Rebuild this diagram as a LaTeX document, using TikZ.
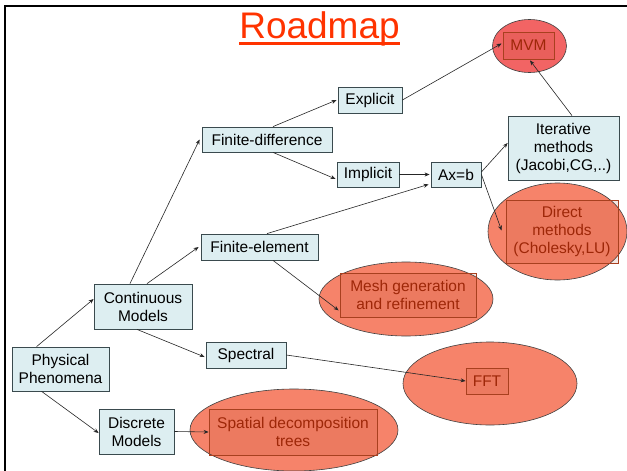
\documentclass[tikz,border=0pt]{standalone}
\usepackage{fontspec}
\setmainfont{Liberation Sans}
\usetikzlibrary{shapes.geometric,arrows.meta}
\definecolor{boxfill}{HTML}{DDEEF1}
\definecolor{boxline}{HTML}{3A4A4E}
\definecolor{ellfill}{HTML}{F6836A}
\definecolor{mvmfill}{HTML}{F26464}
\definecolor{innerline}{HTML}{A8401F}
\definecolor{innertext}{HTML}{9E2708}
\definecolor{titlecol}{HTML}{FF3300}
\tikzset{
  bluebox/.style={draw=boxline, line width=0.8pt, fill=boxfill, rectangle, inner sep=0pt,
    align=center, font=\fontsize{15.5}{18}\selectfont},
  redell/.style={draw=black!75, line width=0.6pt, fill=ellfill, ellipse, inner sep=0pt},
  innerbox/.style={draw=innerline, line width=0.8pt, fill=innerline, fill opacity=0.12, text opacity=1,
    rectangle, inner sep=0pt, align=center, text=innertext, font=\fontsize{15.5}{18}\selectfont},
  conn/.style={draw=black!85, line width=0.6pt, -{Stealth[length=5pt,width=4pt]}},
}
\begin{document}
\begin{tikzpicture}[x=1pt,y=-1pt]
\useasboundingbox (0,0) rectangle (627,471);
\fill[white] (0,0) rectangle (627,471);
% frame
\draw[line width=2.5pt, black] (5,471) -- (5,6) -- (627,6);
% title
\node[anchor=base, inner sep=0pt, text=titlecol, font=\fontsize{37}{40}\selectfont] (title) at (319.5,38) {Roadmap};
\draw[line width=2.5pt, titlecol] ([yshift=-5.5pt]title.base west) -- ([yshift=-5.5pt]title.base east);
% ellipses
\node[redell, fill=mvmfill, minimum width=74pt, minimum height=53pt] (mvmE) at (529.5,46) {};
\node[redell, minimum width=139pt, minimum height=97pt] (directE) at (557.5,231.5) {};
\node[redell, minimum width=174pt, minimum height=74pt] (meshE) at (406,299) {};
\node[redell, minimum width=174pt, minimum height=83pt] (fftE) at (490,383.5) {};
\node[redell, minimum width=208pt, minimum height=82pt] (spatialE) at (294,430) {};
% inner boxes
\node[innerbox, minimum width=51pt, minimum height=27pt] (mvm) at (528.5,45.5) {MVM};
\node[innerbox, minimum width=112pt, minimum height=63pt] (direct) at (562,231.5) {Direct\\methods\\(Cholesky,LU)};
\node[innerbox, minimum width=136pt, minimum height=44pt] (mesh) at (408,295) {Mesh generation\\and refinement};
\node[innerbox, minimum width=42pt, minimum height=26pt] (fft) at (487,381) {FFT};
\node[innerbox, minimum width=168pt, minimum height=46pt] (spatial) at (293,432) {Spatial decomposition\\trees};
% blue boxes
\node[bluebox, minimum width=97pt, minimum height=44pt] (phys) at (60.5,369) {Physical\\Phenomena};
\node[bluebox, minimum width=98pt, minimum height=45pt] (cont) at (143,306.5) {Continuous\\Models};
\node[bluebox, minimum width=75pt, minimum height=45pt] (disc) at (136.5,431.5) {Discrete\\Models};
\node[bluebox, minimum width=80pt, minimum height=26pt] (spec) at (246,355) {Spectral};
\node[bluebox, minimum width=130pt, minimum height=25pt] (fd) at (267,139.5) {Finite-difference};
\node[bluebox, minimum width=117pt, minimum height=26pt] (fe) at (259.5,247) {Finite-element};
\node[bluebox, minimum width=64pt, minimum height=26pt] (expl) at (370,100) {Explicit};
\node[bluebox, minimum width=62pt, minimum height=25pt] (impl) at (368,174.5) {Implicit};
\node[bluebox, minimum width=50pt, minimum height=25pt] (axb) at (456,174.5) {Ax=b};
\node[bluebox, minimum width=111pt, minimum height=64pt] (iter) at (563.5,148) {Iterative\\methods\\(Jacobi,CG,..)};
% connectors
\draw[conn] ([xshift=25pt]phys.north west) -- ([yshift=7.5pt]cont.west);
\draw[conn] ([xshift=30pt]phys.south west) -- ([yshift=-1.5pt]disc.west);
\draw[conn] ([xshift=-13pt]cont.north) -- ([xshift=-2pt]fd.west);
\draw[conn] ([xshift=4pt]cont.north) -- ([xshift=-2pt]fe.west);
\draw[conn] ([xshift=-6pt]cont.south) -- ([xshift=-1pt,yshift=-2pt]spec.west);
\draw[conn] ([xshift=6pt]fd.north) -- ([xshift=-1pt]expl.west);
\draw[conn] ([xshift=6pt]fd.south) -- ([xshift=-1pt,yshift=-4.5pt]impl.west);
\draw[conn] (impl.east) -- ([xshift=-1pt]axb.west);
\draw[conn] ([xshift=7.5pt]fe.north) -- ([xshift=-2pt,yshift=3pt]axb.south west);
\draw[conn] (expl.east) -- ([xshift=-1pt,yshift=2pt]mvm.west);
\draw[conn] ([yshift=2.5pt]axb.east) -- ([yshift=5pt]iter.west);
\draw[conn] (axb.east) -- ([xshift=-4pt,yshift=1pt]direct.west);
\draw[conn] ([xshift=8.5pt]iter.north) -- ([xshift=1.5pt,yshift=-1pt]mvm.south);
\draw[conn] ([xshift=13.5pt]fe.south) -- ([xshift=-1pt,yshift=7pt]mesh.south west);
\draw[conn] (spec.east) -- (fft.west);
\draw[conn] (disc.east) -- (spatial.west);
\end{tikzpicture}
\end{document}
